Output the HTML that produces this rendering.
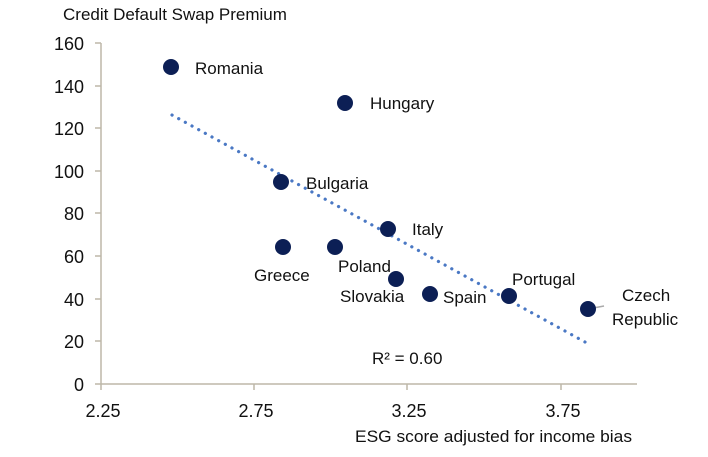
<!DOCTYPE html>
<html><head><style>
body{margin:0;background:#fff;}
svg text{font-family:"Liberation Sans",sans-serif;fill:#111;}
</style></head><body>
<svg width="708" height="452" viewBox="0 0 708 452" xmlns="http://www.w3.org/2000/svg">
<text x="63" y="20" font-size="17">Credit Default Swap Premium</text>
<g stroke="#bdb7a8" stroke-width="1.5">
<line x1="101" y1="43" x2="101" y2="384"/>
<line x1="101" y1="384" x2="637" y2="384"/>
<line x1="95" y1="43" x2="101" y2="43"/><line x1="95" y1="86" x2="101" y2="86"/>
<line x1="95" y1="128" x2="101" y2="128"/><line x1="95" y1="171" x2="101" y2="171"/>
<line x1="95" y1="213" x2="101" y2="213"/><line x1="95" y1="256" x2="101" y2="256"/>
<line x1="95" y1="299" x2="101" y2="299"/><line x1="95" y1="341" x2="101" y2="341"/>
<line x1="95" y1="384" x2="101" y2="384"/>
<line x1="101" y1="384" x2="101" y2="390"/><line x1="254" y1="384" x2="254" y2="390"/>
<line x1="407" y1="384" x2="407" y2="390"/><line x1="561" y1="384" x2="561" y2="390"/>
</g>
<g font-size="18" text-anchor="end">
<text x="84" y="50">160</text><text x="84" y="93">140</text><text x="84" y="135">120</text>
<text x="84" y="178">100</text><text x="84" y="220">80</text><text x="84" y="263">60</text>
<text x="84" y="306">40</text><text x="84" y="348">20</text><text x="84" y="391">0</text>
</g>
<g font-size="18" text-anchor="middle">
<text x="103" y="417">2.25</text><text x="256" y="417">2.75</text>
<text x="409" y="417">3.25</text><text x="563" y="417">3.75</text>
</g>
<text x="355" y="442" font-size="17" textLength="277" lengthAdjust="spacingAndGlyphs">ESG score adjusted for income bias</text>
<line x1="172" y1="115" x2="585" y2="342" stroke="#4a78c4" stroke-width="3.2" stroke-dasharray="0.1 7.5" stroke-linecap="round"/>
<line x1="588" y1="309" x2="604" y2="306" stroke="#aaa" stroke-width="1.5"/>
<g fill="#0c1f55">
<circle cx="171" cy="67" r="8"/><circle cx="345" cy="103" r="8"/><circle cx="281" cy="182" r="8"/>
<circle cx="388" cy="229" r="8"/><circle cx="283" cy="247" r="8"/><circle cx="335" cy="247" r="8"/>
<circle cx="396" cy="279" r="8"/><circle cx="430" cy="294" r="8"/><circle cx="509" cy="296" r="8"/>
<circle cx="588" cy="309" r="8"/>
</g>
<g font-size="17">
<text x="195" y="74">Romania</text><text x="370" y="109">Hungary</text>
<text x="306" y="189">Bulgaria</text><text x="412" y="235">Italy</text>
<text x="254" y="281">Greece</text><text x="338" y="272">Poland</text>
<text x="340" y="302">Slovakia</text><text x="443" y="303">Spain</text>
<text x="512" y="285">Portugal</text><text x="622" y="301">Czech</text>
<text x="612" y="325">Republic</text>
<text x="372" y="364">R² = 0.60</text>
</g>
</svg>
</body></html>
